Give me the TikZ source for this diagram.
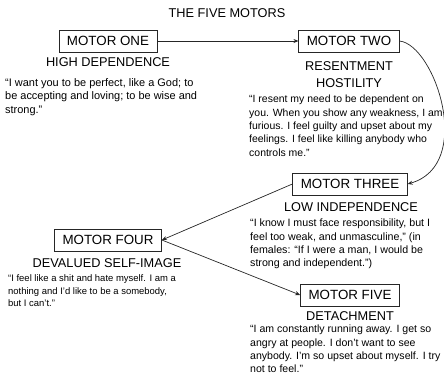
\documentclass[tikz,border=0pt]{standalone}
\usepackage{fontspec}
\setmainfont{Liberation Sans}
\usetikzlibrary{arrows.meta}
\begin{document}
\begin{tikzpicture}[x=1bp,y=-1bp,
  motorbox/.style={draw=black!85, line width=0.8bp, font=\fontsize{13.4}{15}\selectfont, inner xsep=8bp, inner ysep=0pt, minimum height=22bp},
  heading/.style={font=\fontsize{12.8}{17}\selectfont, inner sep=0pt},
  quotetext/.style={font=\fontsize{10.7}{13.4}\selectfont, align=left, anchor=north west, inner sep=0pt},
  link/.style={draw=black!85, line width=0.7bp, -{Stealth[length=5bp,width=4bp]}}]
\useasboundingbox (0,0) rectangle (444,381);

\node[heading] (title) at (227,13) {THE FIVE MOTORS};

\node[motorbox] (m1) at (108,41) {MOTOR ONE};
\node[heading] (h1) at (108,62) {HIGH DEPENDENCE};
\node[quotetext, font=\fontsize{11}{13.5}\selectfont] (q1) at (5,78) {``I want you to be perfect, like a God; to\\be accepting and loving; to be wise and\\strong.''};

\node[motorbox] (m2) at (349,41) {MOTOR TWO};
\node[heading, align=center] (h2) at (349,74.5) {RESENTMENT\\HOSTILITY};
\node[quotetext, font=\fontsize{10.5}{13.4}\selectfont] (q2) at (249,95) {``I resent my need to be dependent on\\you. When you show any weakness, I am\\furious. I feel guilty and upset about my\\feelings. I feel like killing anybody who\\controls me.''};

\node[motorbox] (m3) at (350,184) {MOTOR THREE};
\node[heading] (h3) at (351,207) {LOW INDEPENDENCE};
\node[quotetext] (q3) at (250,219) {``I know I must face responsibility, but I\\feel too weak, and unmasculine,'' (in\\females: ``If I were a man, I would be\\strong and independent.'')};

\node[motorbox] (m4) at (108,240) {MOTOR FOUR};
\node[heading] (h4) at (107,263) {DEVALUED SELF-IMAGE};
\node[quotetext, font=\fontsize{9.5}{12.5}\selectfont] (q4) at (8,274.5) {``I feel like a shit and hate myself. I am a\\nothing and I'd like to be a somebody,\\but I can't.''};

\node[motorbox] (m5) at (350,295) {MOTOR FIVE};
\node[heading] (h5) at (350,316) {DETACHMENT};
\node[quotetext, font=\fontsize{10.6}{13.2}\selectfont] (q5) at (250,325) {``I am constantly running away. I get so\\angry at people. I don't want to see\\anybody. I'm so upset about myself. I try\\not to feel.''};

\draw[link] (m1) -- (m2);
\draw[link] (m2.east) .. controls (435,45) and (475,165) .. (m3.east);
\draw[link] (m3.west) -- (m4.east);
\draw[link] (m4.east) -- (m5.west);
\end{tikzpicture}
\end{document}
